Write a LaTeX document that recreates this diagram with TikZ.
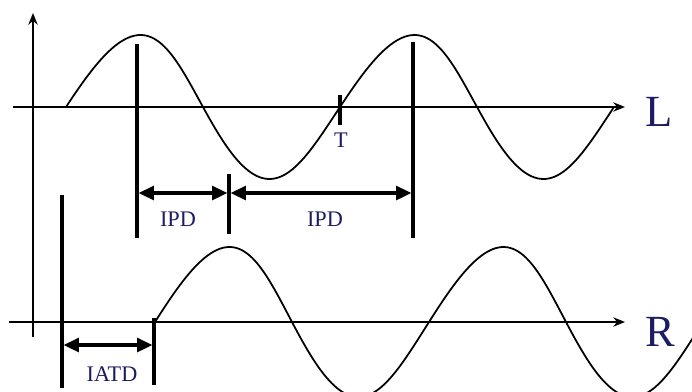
\documentclass[tikz,border=0pt]{standalone}
\usepackage{fontspec}
\setmainfont{Liberation Serif}
\usetikzlibrary{arrows.meta}
\definecolor{labelblue}{RGB}{28,28,100}

\begin{document}
\begin{tikzpicture}[x=0.03cm, y=-0.03cm, >=Stealth,
    axis/.style={line width=1.5pt, -{Stealth[length=10pt, width=8pt]}},
    wave/.style={line width=1.5pt},
    bar/.style={line width=3pt},
    gap/.style={line width=2.6pt,
      {Triangle[length=13pt, width=12pt]}-{Triangle[length=13pt, width=12pt]},
      shorten <=1.5pt, shorten >=1.5pt},
    lbl/.style={text=labelblue, font=\fontsize{19}{19}\selectfont, inner sep=0pt},
    chan/.style={text=labelblue, font=\fontsize{38}{38}\selectfont, inner sep=0pt}]
  \useasboundingbox (0,0) rectangle (692,392);

  % axes
  \coordinate (o) at (33,337);
  \coordinate (ytip) at (33,13);
  \coordinate (lstart) at (13,107);
  \coordinate (lend) at (625,107);
  \coordinate (rstart) at (9,322);
  \coordinate (rend) at (625,322);
  \draw[axis] (o) -- (ytip);
  \draw[axis] (lstart) -- (lend);
  \draw[axis] (rstart) -- (rend);
  \node[chan] (lname) at (659,112) {L};
  \node[chan] (rname) at (660,332) {R};

  % left and right ear signals (period 274px, rising side a bit longer)
  \draw[wave] plot[domain=0:720, samples=200, variable=\t]
    ({66 + 0.76111*\t + 4*sin(\t) + 2*pow(sin(\t),2)}, {107 - 72*sin(\t)});
  \begin{scope}
    \clip (0,0) rectangle (692,392);
    \draw[wave] plot[domain=0:730, samples=200, variable=\t]
      ({155 + 0.76111*\t + 4*sin(\t) + 2*pow(sin(\t),2)}, {322 - 75*sin(\t)});
  \end{scope}

  % marker bars
  \coordinate (pk1t) at (137,44);   \coordinate (pk1b) at (137,238);
  \coordinate (pk2t) at (413,42);   \coordinate (pk2b) at (413,238);
  \coordinate (pkrt) at (229,174);  \coordinate (pkrb) at (229,234);
  \coordinate (tt) at (340,95);     \coordinate (tb) at (340,125);
  \coordinate (ont) at (62,195);    \coordinate (onb) at (62,388);
  \coordinate (rst) at (154,318);   \coordinate (rsb) at (154,385);
  \draw[bar] (pk1t) -- (pk1b);
  \draw[bar] (pk2t) -- (pk2b);
  \draw[bar] (pkrt) -- (pkrb);
  \draw[bar] (tt) -- (tb);
  \draw[bar] (ont) -- (onb);
  \draw[bar] (rst) -- (rsb);
  \node[lbl] (tlbl) at (341,140) {T};

  % time differences
  \coordinate (ipd1a) at (137,193);
  \coordinate (ipd1b) at (229,193);
  \coordinate (ipd2b) at (413,193);
  \coordinate (iatda) at (62,345);
  \coordinate (iatdb) at (154,345);
  \draw[gap] (ipd1a) -- (ipd1b);
  \draw[gap] (ipd1b) -- (ipd2b);
  \draw[gap] (iatda) -- (iatdb);
  \node[lbl] (ipd1) at (178,219) {IPD};
  \node[lbl] (ipd2) at (325,219) {IPD};
  \node[lbl] (iatd) at (112,374) {IATD};
\end{tikzpicture}
\end{document}
